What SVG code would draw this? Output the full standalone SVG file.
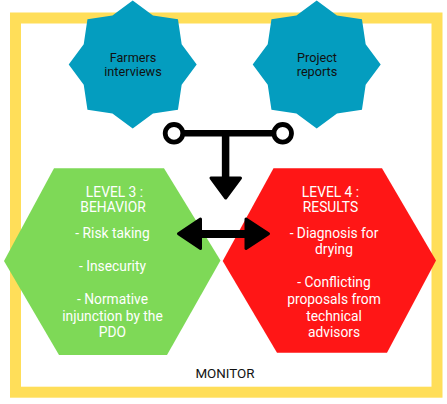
<svg xmlns="http://www.w3.org/2000/svg" width="447" height="404" viewBox="0 0 447 404">
<defs>
<style>
.frame{fill:none;stroke:#ffde59;stroke-width:11}
.star{fill:#049dbf}
.lbl{font-family:Roboto,"Liberation Sans",Arial,sans-serif;text-anchor:middle}
.dark{fill:#111111;font-size:12.7px}
.white{fill:#ffffff;font-size:13.8px}
.mon{fill:#111111;font-size:13.4px}
.line{stroke:#000;fill:none;stroke-linecap:butt}
.head{fill:#000;stroke:#000;stroke-width:3;stroke-linejoin:round}
.ring{fill:#fff;stroke:#000;stroke-width:4.8}
</style>
<polygon id="star8" points="0,-64 20.28,-48.97 45.25,-45.25 48.97,-20.28 64,0 48.97,20.28 45.25,45.25 20.28,48.97 0,64 -20.28,48.97 -45.25,45.25 -48.97,20.28 -64,0 -48.97,-20.28 -45.25,-45.25 -20.28,-48.97"/>
</defs>
<rect width="447" height="404" fill="#ffffff"/>
<g id="monitor">
<rect class="frame" x="15.5" y="18" width="421.5" height="374.2"/>
<text class="lbl mon" x="225" y="378">MONITOR</text>
</g>
<g id="level3">
<polygon fill="#7ed957" points="54,168.3 164,168.3 220.5,260.5 167,355 59,355 4,261"/>
<text class="lbl white" x="114.5" y="197">LEVEL 3 :</text>
<text class="lbl white" x="113" y="212">BEHAVIOR</text>
<text class="lbl white" x="112.5" y="237.5">- Risk taking</text>
<text class="lbl white" x="112.5" y="270.7">- Insecurity</text>
<text class="lbl white" x="112.5" y="304">- Normative</text>
<text class="lbl white" x="112.5" y="320.5">injunction by the</text>
<text class="lbl white" x="112.5" y="337">PDO</text>
</g>
<g id="level4">
<polygon fill="#ff1616" points="273.5,168.3 382,168.3 436,260.5 387,352.7 277,352.7 222.7,261"/>
<text class="lbl white" x="330.5" y="197">LEVEL 4 :</text>
<text class="lbl white" x="330.5" y="212">RESULTS</text>
<text class="lbl white" x="334" y="237.5">- Diagnosis for</text>
<text class="lbl white" x="334" y="254">drying</text>
<text class="lbl white" x="334" y="287.3">- Conflicting</text>
<text class="lbl white" x="334" y="304">proposals from</text>
<text class="lbl white" x="334" y="320.5">technical</text>
<text class="lbl white" x="334" y="337">advisors</text>
</g>
<g id="farmers">
<use href="#star8" class="star" transform="translate(132.7,64.5)"/>
<text class="lbl dark" x="133" y="61.7">Farmers</text>
<text class="lbl dark" x="133" y="76">interviews</text>
</g>
<g id="reports">
<use href="#star8" class="star" transform="translate(316.7,64.5)"/>
<text class="lbl dark" x="317" y="61.7">Project</text>
<text class="lbl dark" x="317" y="76">reports</text>
</g>
<g id="connectors">
<line class="line" x1="180" y1="133.3" x2="277" y2="133.3" stroke-width="6.5"/>
<circle class="ring" cx="174" cy="133.3" r="8.8"/>
<circle class="ring" cx="282.7" cy="133.3" r="8.8"/>
<line class="line" x1="225.6" y1="133.3" x2="225.6" y2="180" stroke-width="7.5"/>
<polygon class="head" points="211,178 240.5,178 225.7,198"/>
<line class="line" x1="196" y1="234" x2="251" y2="234" stroke-width="8"/>
<polygon class="head" points="178.5,233.7 200.5,219 200.5,248.5"/>
<polygon class="head" points="246,219 268.5,233.7 246,248.5"/>
</g>
</svg>
